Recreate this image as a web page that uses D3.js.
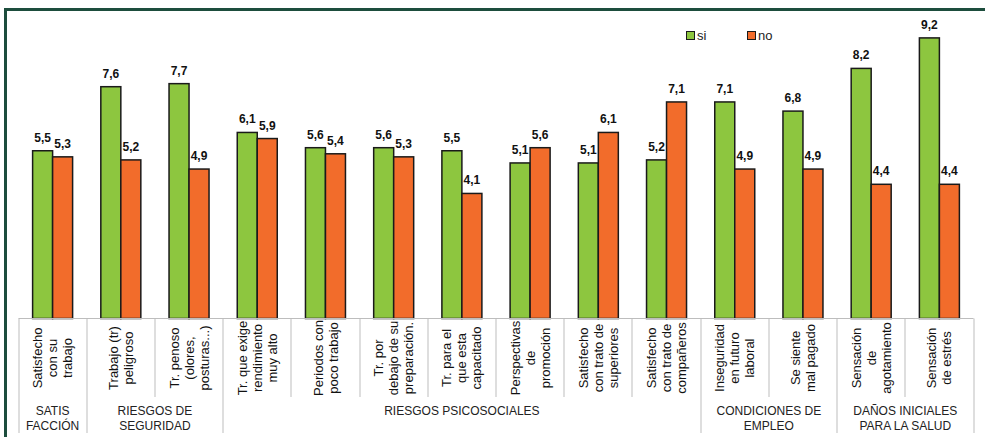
<!DOCTYPE html>
<html>
<head>
<meta charset="utf-8">
<script src="https://cdn.jsdelivr.net/npm/d3@7"></script>
<style>
  html, body { margin: 0; padding: 0; background: #fff; }
  svg { display: block; font-family: "Liberation Sans", Arial, sans-serif; }
</style>
</head>
<body>
<svg id="chart" width="985" height="441"></svg>
<script>
// ---- data ----
const categories = [
  ["Satisfecho", "con su", "trabajo"],
  ["Trabajo (tr)", "peligroso"],
  ["Tr. penoso", "(olores,", "posturas...)"],
  ["Tr. que exige", "rendimiento", "muy alto"],
  ["Periodos con", "poco trabajo"],
  ["Tr. por", "debajo de su", "preparación."],
  ["Tr. para el", "que esta", "capacitado"],
  ["Perspectivas", "de", "promoción"],
  ["Satisfecho", "con trato de", "superiores"],
  ["Satisfecho", "con trato de", "compañeros"],
  ["Inseguridad", "en futuro", "laboral"],
  ["Se siente", "mal pagado"],
  ["Sensación", "de", "agotamiento"],
  ["Sensación", "de estrés"]
];
const seriesNames = ["si", "no"];
const siValues = [5.5, 7.6, 7.7, 6.1, 5.6, 5.6, 5.5, 5.1, 5.1, 5.2, 7.1, 6.8, 8.2, 9.2];
const noValues = [5.3, 5.2, 4.9, 5.9, 5.4, 5.3, 4.1, 5.6, 6.1, 7.1, 4.9, 4.9, 4.4, 4.4];
const groupLabels = [
  ["SATIS", "FACCIÓN"],
  ["RIESGOS DE", "SEGURIDAD"],
  ["RIESGOS PSICOSOCIALES"],
  ["CONDICIONES DE", "EMPLEO"],
  ["DAÑOS INICIALES", "PARA LA SALUD"]
];
const groupStart = [0, 1, 3, 10, 12];
const groupEnd = [0, 2, 9, 11, 13];

// ---- layout ----
const colors = { si: "#8DC63F", no: "#F26C2B" };
const svg = d3.select("#chart");
const baseY = 318.5;
const left = 18.5, right = 973.5;

const x = d3.scaleBand().domain(d3.range(categories.length)).range([left, right]).padding(0);
const bw = x.bandwidth();
const xs = d3.scaleBand().domain(seriesNames).range([bw / 2 - 20, bw / 2 + 20]).padding(0);
const y = d3.scaleLinear().domain([0, 10]).range([baseY, 13.5]);

// frame
svg.append("line").attr("x1", 5.5).attr("x2", 5.5).attr("y1", 8).attr("y2", 437)
  .attr("stroke", "#1d4d3d").attr("stroke-width", 3);
svg.append("line").attr("x1", 4).attr("x2", 985).attr("y1", 9.5).attr("y2", 9.5)
  .attr("stroke", "#1d4d3d").attr("stroke-width", 3);

// bars
const rows = categories.map((c, i) => ({ i, si: siValues[i], no: noValues[i] }));
const cg = svg.append("g").selectAll("g").data(rows).join("g")
  .attr("transform", d => `translate(${x(d.i)},0)`);

cg.selectAll("rect").data(d => seriesNames.map(k => ({ k, v: d[k] }))).join("rect")
  .attr("x", d => xs(d.k))
  .attr("width", xs.bandwidth())
  .attr("y", d => y(d.v))
  .attr("height", d => baseY - y(d.v))
  .attr("fill", d => colors[d.k])
  .attr("stroke", "#1a1a1a").attr("stroke-width", 1.5);

cg.selectAll("text.val").data(d => seriesNames.map(k => ({ k, v: d[k] }))).join("text")
  .attr("class", "val")
  .attr("x", d => xs(d.k) + xs.bandwidth() / 2)
  .attr("y", d => y(d.v) - 9)
  .attr("text-anchor", "middle")
  .attr("font-size", 12).attr("font-weight", "bold").attr("fill", "#111")
  .text(d => d3.format(".1f")(d.v).replace(".", ","));

// axis grid lines (table)
const grid = svg.append("g").attr("stroke", "#bdbdbd").attr("stroke-width", 1);
grid.append("line").attr("x1", left).attr("x2", right).attr("y1", baseY).attr("y2", baseY);
const boundaries = d3.range(categories.length + 1);
const groupBounds = new Set([0, ...groupEnd.map(e => e + 1)]);
grid.selectAll("line.div").data(boundaries).join("line").attr("class", "div")
  .attr("x1", b => Math.round(b < categories.length ? x(b) : right))
  .attr("x2", b => Math.round(b < categories.length ? x(b) : right))
  .attr("y1", baseY)
  .attr("y2", b => groupBounds.has(b) ? 433 : 397);

// category labels
const lineGap = 15;
svg.append("g").selectAll("g").data(categories).join("g")
  .attr("transform", (d, i) => `translate(${x(i) + bw / 2},358) rotate(-90)`)
  .each(function (lines) {
    const n = lines.length;
    d3.select(this).selectAll("text").data(lines).join("text")
      .attr("x", 0)
      .attr("y", (l, j) => (j - (n - 1) / 2) * lineGap)
      .attr("dy", "0.35em")
      .attr("text-anchor", "middle")
      .attr("font-size", 13).attr("fill", "#111")
      .text(l => l);
  });

// group labels
svg.append("g").selectAll("g").data(groupLabels).join("g")
  .attr("transform", (d, gi) => {
    const x0 = x(groupStart[gi]);
    const x1 = groupEnd[gi] + 1 < categories.length ? x(groupEnd[gi] + 1) : right;
    return `translate(${(x0 + x1) / 2},0)`;
  })
  .each(function (lines) {
    d3.select(this).selectAll("text").data(lines).join("text")
      .attr("x", 0)
      .attr("y", (l, j) => 411 + j * 15)
      .attr("dy", "0.35em")
      .attr("text-anchor", "middle")
      .attr("font-size", 12).attr("fill", "#222")
      .text(l => l);
  });

// legend
const legendX = [686, 747];
const lg = svg.append("g").selectAll("g").data(seriesNames).join("g")
  .attr("transform", (d, i) => `translate(${legendX[i]},31)`);
lg.append("rect").attr("x", 0.5).attr("y", 0.5).attr("width", 8).attr("height", 8)
  .attr("fill", d => colors[d]).attr("stroke", "#1a1a1a").attr("stroke-width", 1);
lg.append("text").attr("x", 11).attr("y", 4.5).attr("dy", "0.35em")
  .attr("font-size", 13).attr("fill", "#222").text(d => d);
</script>
</body>
</html>
